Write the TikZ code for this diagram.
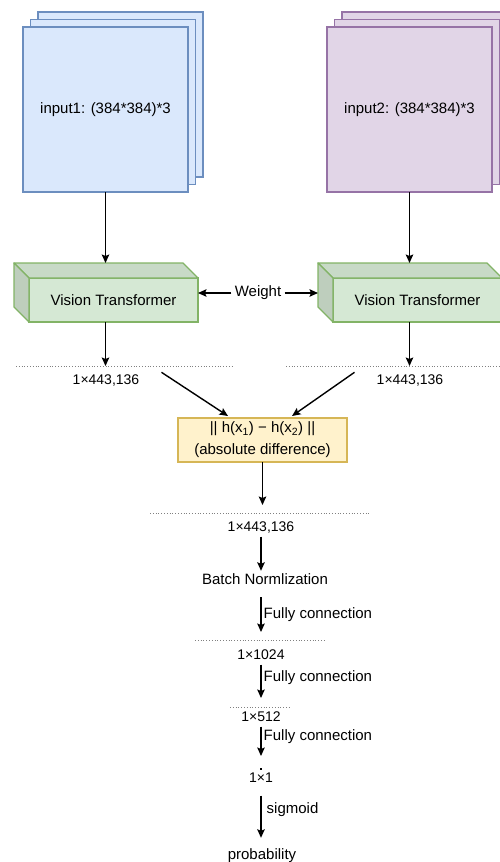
\documentclass[tikz,border=0pt]{standalone}
\usepackage{fontspec}
\setmainfont{Liberation Sans}
\usetikzlibrary{arrows.meta}
\usetikzlibrary{calc}

\definecolor{bluefill}{HTML}{DAE8FC}
\definecolor{bluedraw}{HTML}{6C8EBF}
\definecolor{purplefill}{HTML}{E1D5E7}
\definecolor{purpledraw}{HTML}{9673A6}
\definecolor{greenfill}{HTML}{D5E8D4}
\definecolor{greendraw}{HTML}{82B366}
\definecolor{yellowfill}{HTML}{FFF2CC}
\definecolor{yellowdraw}{HTML}{D6B656}

\begin{document}
\begin{tikzpicture}[x=1pt,y=-1pt,
    every node/.style={font=\fontsize{15}{20}\selectfont},
    sheet/.style={rectangle,minimum width=165pt,minimum height=165pt,line width=1.3pt,outer sep=0pt},
    vit/.style={rectangle,minimum width=169pt,minimum height=44pt,draw=greendraw,fill=greenfill,line width=1.3pt,outer sep=0pt},
    dim/.style={font=\fontsize{14}{16}\selectfont,text height=10pt,text depth=3pt,inner sep=2pt},
    lbl/.style={text height=11pt,text depth=3pt,inner sep=2pt},
    flow/.style={-{Stealth[length=8.5pt,width=7.5pt,inset=1.5pt]},line width=1.4pt},
    sep/.style={dotted,gray,line width=0.8pt}]
\clip (0,0) rectangle (500,862);

% image stacks
\foreach \dx in {15,7.5} {
    \filldraw[draw=bluedraw,fill=bluefill,line width=1.3pt] (23+\dx,27-\dx) rectangle (188+\dx,192-\dx);
    \filldraw[draw=purpledraw,fill=purplefill,line width=1.3pt] (327+\dx,27-\dx) rectangle (492+\dx,192-\dx);
}
\node[sheet,draw=bluedraw,fill=bluefill] (in1) at (105.5,109.5) {input1: (384*384)*3};
\node[sheet,draw=purpledraw,fill=purplefill] (in2) at (409.5,109.5) {input2: (384*384)*3};

% encoders
\node[vit] (vt1) at (113.5,300) {Vision Transformer};
\node[vit] (vt2) at (417.5,300) {Vision Transformer};
\foreach \v/\t in {vt1/t1,vt2/t2} {
    \coordinate (\t) at ($(\v.north west)+(-15,-15)$);
    \filldraw[draw=greendraw,fill=greenfill!94!black,line width=1.3pt,line join=round]
        (\v.north west) -- (\t) -- ($(\v.north east)+(-15,-15)$) -- (\v.north east) -- cycle;
    \filldraw[draw=greendraw,fill=greenfill!89!black,line width=1.3pt,line join=round]
        (\v.north west) -- (\t) -- ($(\v.south west)+(-15,-15)$) -- (\v.south west) -- cycle;
}
\draw[flow] (in1.south) -- (in1.south |- t1);
\draw[flow] (in2.south) -- (in2.south |- t2);

\node (w) at (258,293) {Weight};
\draw[flow] (w.west) -- (w.west -| vt1.east);
\draw[flow] (w.east) -- (w.east -| t2);

% features
\coordinate (l1a) at (16,366);
\coordinate (l1b) at (234,366);
\coordinate (l2a) at (286,366);
\coordinate (l2b) at (500,366);
\draw[sep] (l1a) -- (l1b);
\draw[sep] (l2a) -- (l2b);
\draw[flow] (in1.south |- vt1.south) -- (in1.south |- l1a);
\draw[flow] (in2.south |- vt2.south) -- (in2.south |- l2a);
\node[dim] (o1) at (106,381) {1×443,136};
\node[dim] (o2) at (410,381) {1×443,136};

\node[draw=yellowdraw,fill=yellowfill,line width=1.3pt,minimum width=169pt,minimum height=44pt,
    align=center,outer sep=0pt,inner sep=1pt,font=\fontsize{15}{22}\selectfont] (abs) at (262.5,440)
    {|| h(x\textsubscript{1}) − h(x\textsubscript{2}) ||\\(absolute difference)};
\draw[flow] ($(o1.north east)+(20,0)$) -- ($(abs.north)+(-34.5,-2)$);
\draw[flow] ($(o2.north west)+(-20,0)$) -- ($(abs.north)+(29.5,-2)$);

% head
\coordinate (l3a) at (150,513);
\coordinate (l3b) at (370,513);
\draw[sep] (l3a) -- (l3b);
\draw[flow,shorten >=8pt] (abs.south) -- (abs.south |- l3a);
\node[dim] (o3) at (261,528) {1×443,136};
\node[lbl] (bn) at (265,580) {Batch Normlization};
\draw[flow] (o3.south) -- (o3.south |- bn.north);

\coordinate (l4a) at (195,640);
\coordinate (l4b) at (326,640);
\draw[sep] (l4a) -- (l4b);
\draw[flow,shorten <=8pt,shorten >=8pt] (o3.south |- bn.south) -- (o3.south |- l4a)
    node[midway,right,inner sep=2pt] (fc1) {Fully connection};
\node[dim] (o4) at (261,656) {1×1024};

\coordinate (l5a) at (230,707);
\coordinate (l5b) at (291,707);
\draw[sep] (l5a) -- (l5b);
\draw[flow,shorten >=9pt] (o4.south) -- (o4.south |- l5a)
    node[midway,right,inner sep=2pt,yshift=8pt] (fc2) {Fully connection};
\node[dim] (o5) at (261,718) {1×512};

\coordinate (p6) at (261,769);
\fill ($(p6)+(-1.2,-1.2)$) rectangle ($(p6)+(1.2,1.2)$);
\draw[flow,shorten >=13pt] (o5.south) -- (o5.south |- p6)
    node[midway,right,inner sep=2pt,yshift=11pt] (fc3) {Fully connection};
\node[dim] (o6) at (261,779) {1×1};

\node[lbl] (prob) at (262,855) {probability};
\draw[flow,shorten <=8pt,shorten >=8pt] (o6.south) -- (o6.south |- prob.north)
    node[midway,right,inner sep=5pt,yshift=7pt] (sg) {sigmoid};
\end{tikzpicture}
\end{document}
